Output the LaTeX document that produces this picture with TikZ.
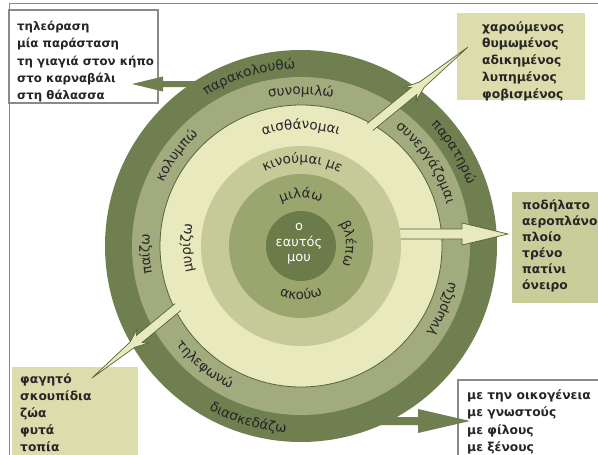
\documentclass[tikz,border=0pt]{standalone}
\usepackage{fontspec}
\setmainfont{DejaVu Sans}
\usetikzlibrary{calc,decorations.text}
\definecolor{ringA}{HTML}{707F50}
\definecolor{ringB}{HTML}{A2AB7E}
\definecolor{ringC}{HTML}{E8E9BD}
\definecolor{ringD}{HTML}{C5CA98}
\definecolor{ringE}{HTML}{9BA66E}
\definecolor{ringF}{HTML}{6B7B49}
\definecolor{edge}{HTML}{56643A}
\definecolor{khaki}{HTML}{DCDCAC}
\definecolor{khakiB}{HTML}{C9CD9A}
\definecolor{txt}{HTML}{262626}
\definecolor{framec}{HTML}{8A8A8A}
\newcommand\boxfont{\fontsize{11.8}{17.3}\selectfont\bfseries}
\newcommand\rlab{\fontsize{13.5}{14}\selectfont\color{txt}}
\newcommand\cwlabel[4][50]{\path[decorate,decoration={text along path,text align=center,text={|\rlab|#4}}] (C) ++({#3-#1}:#2) arc[start angle={#3-#1},end angle={#3+#1},radius=#2];}
\newcommand\ccwlabel[4][50]{\path[decorate,decoration={text along path,text align=center,text={|\rlab|#4}}] (C) ++({#3+#1}:#2) arc[start angle={#3+#1},end angle={#3-#1},radius=#2];}
\newcommand\boltshape[2]{\filldraw[bolt]
 ($(#1)!4.5pt!90:(#2)$) -- ($(#1)!0.45!(#2)!4.5pt!90:(#2)$) -- ($(#1)!0.41!(#2)!9pt!90:(#2)$) -- ($(#1)!0.53!(#2)!3.5pt!90:(#2)$) -- (#2) -- ($(#1)!0.53!(#2)!3.5pt!-90:(#2)$) -- ($(#1)!0.41!(#2)!9pt!-90:(#2)$) -- ($(#1)!0.45!(#2)!4.5pt!-90:(#2)$) -- ($(#1)!4.5pt!-90:(#2)$);}
\tikzset{
  bolt/.style={fill=ringC, draw=edge, line width=0.7pt, line join=miter},
  boxtext/.style={align=left, inner sep=0pt, anchor=north west, text=txt, font=\boxfont},
  wbox/.style={draw=framec, line width=1.3pt, fill=white},
}
\begin{document}
\begin{tikzpicture}[x=1pt,y=-1pt]
\useasboundingbox (0,0) rectangle (598,455);
\clip (0,0) rectangle (598,455);
\fill[white] (0,0) rectangle (598,455);
\coordinate (C) at (301,246);
% frame
\draw[framec, line width=1pt] (9,3) rectangle (700,600);
% boxes
\draw[wbox] (9,10) rectangle (158,103);
\fill[khaki] (457,13) rectangle (585,100);
\fill[khakiB] (512,192) rectangle (640,303);
\fill[khaki] (12,367) rectangle (138,480);
\draw[wbox] (458,380) rectangle (640,480);
% rings
\fill[ringA] (C) circle[radius=196];
\fill[ringB] (C) circle[radius=169];
\fill[ringC] (C) circle[radius=141];
\draw[edge, line width=0.8pt] (C) circle[radius=141];
% dark arrows
\fill[ringA] (198,81) -- (163,81) -- (163,76.5) -- (132,84) -- (163,91.5) -- (163,87) -- (198,87) -- cycle;
\fill[ringA] (378,417) -- (418,417) -- (418,409) -- (470,421) -- (418,433) -- (418,425) -- (378,425) -- cycle;
% pale arrows
\filldraw[bolt] (395,229) -- (462,229) -- (462,223) -- (508,234) -- (462,245) -- (462,239) -- (395,239);
\coordinate (uA) at (370,127);
\coordinate (uB) at (468,47);
\coordinate (lA) at (178,307);
\coordinate (lB) at (92,378);
\boltshape{uA}{uB}
\boltshape{lA}{lB}
% inner rings
\fill[ringD] (C) circle[radius=100];
\fill[ringE] (C) circle[radius=72];
\fill[ringF] (C) circle[radius=35];
% ring labels
\cwlabel{177.5}{-107}{παρακολουθώ}
\cwlabel{177.5}{-31.5}{παρατηρώ}
\ccwlabel{187.5}{107}{διασκεδάζω}
\cwlabel{151.5}{-90}{συνομιλώ}
\cwlabel{151.5}{-144}{κολυμπώ}
\cwlabel{151.5}{177}{παίζω}
\cwlabel{151.5}{-33.7}{συνεργάζομαι}
\ccwlabel{159.5}{24}{γνωρίζω}
\ccwlabel{159.5}{129}{τηλεφωνώ}
\cwlabel{117}{-90}{αισθάνομαι}
\cwlabel{110.5}{179}{μυρίζω}
\cwlabel{83}{-89}{κινούμαι με}
\cwlabel{48}{-90}{μιλάω}
\cwlabel{45}{-3}{βλέπω}
\ccwlabel{53.5}{90}{ακούω}
% centre
\node[text=white, align=center, font=\fontsize{13}{15.5}\selectfont] (self) at (299,244) {ο\\εαυτός\\μου};
% box texts
\node[boxtext] (tlt) at (17,21) {τηλεόραση\\μία παράσταση\\τη γιαγιά στον κήπο\\στο καρναβάλι\\στη θάλασσα};
\node[boxtext, font=\fontsize{12.3}{16.8}\selectfont\bfseries] (trt) at (482,21) {χαρούμενος\\θυμωμένος\\αδικημένος\\λυπημένος\\φοβισμένος};
\node[boxtext, font=\fontsize{12.3}{16}\selectfont\bfseries] (rt) at (522,199) {ποδήλατο\\αεροπλάνο\\πλοίο\\τρένο\\πατίνι\\όνειρο};
\node[boxtext, font=\fontsize{12.3}{17.2}\selectfont\bfseries] (blt) at (20,373) {φαγητό\\σκουπίδια\\ζώα\\φυτά\\τοπία};
\node[boxtext, font=\fontsize{12.3}{17.6}\selectfont\bfseries] (brt) at (467,389) {με την οικογένεια\\με γνωστούς\\με φίλους\\με ξένους};
\end{tikzpicture}
\end{document}
